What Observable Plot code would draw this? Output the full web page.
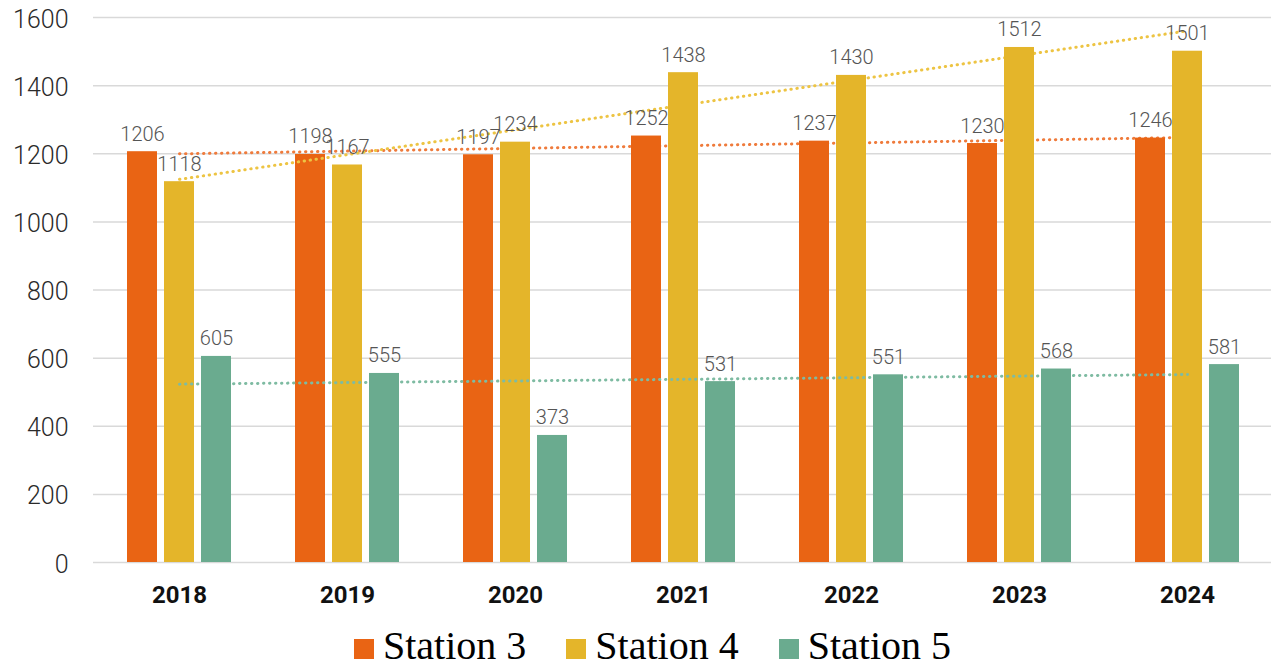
<!DOCTYPE html>
<html>
<head>
<meta charset="utf-8">
<script src="https://cdn.jsdelivr.net/npm/d3@7"></script>
<script src="https://cdn.jsdelivr.net/npm/@observablehq/plot@0.6"></script>
<style>
  html, body { margin: 0; padding: 0; background: #fff; }
  #chart { width: 1271px; height: 668px; overflow: hidden; }
  #legend { padding-left: 354px; margin-top: 6px; line-height: 40px; }
  #legend .stations-swatch { margin-right: 40px !important; line-height: 40px; }
  #legend .stations-swatch > svg { margin-right: 9px !important; position: relative; top: 3px; }
</style>
</head>
<body>
<div id="chart"></div>
<script>
// Annual totals per station
const years = ["2018", "2019", "2020", "2021", "2022", "2023", "2024"];
const stations = ["Station 3", "Station 4", "Station 5"];
const station3 = [1206, 1198, 1197, 1252, 1237, 1230, 1246];
const station4 = [1118, 1167, 1234, 1438, 1430, 1512, 1501];
const station5 = [605, 555, 373, 531, 551, 568, 581];
const yTicks = [0, 200, 400, 600, 800, 1000, 1200, 1400, 1600];

const series = [station3, station4, station5];
const barColors = ["#E96414", "#E4B52A", "#6AAB8F"];
const trendColors = ["#EF7B3C", "#EDC443", "#7EBBA2"];
const offsets = [-37, 0, 37];

const rows = stations.flatMap((station, k) =>
  years.map((year, i) => ({station, year, value: series[k][i]}))
);

// Least-squares linear trend over the year index
function trend(values) {
  const idx = values.map((_, i) => i);
  const mx = d3.mean(idx), my = d3.mean(values);
  const slope = d3.sum(idx, i => (i - mx) * (values[i] - my)) / d3.sum(idx, i => (i - mx) ** 2);
  return values.map((_, i) => my + slope * (i - mx));
}
const trendRows = stations.flatMap((station, k) =>
  trend(series[k]).map((value, i) => ({station, year: years[i], value}))
);

const marks = [
  Plot.gridY(yTicks, {stroke: "#d9d9d9", strokeOpacity: 1, strokeWidth: 1.5})
];
// Each station: its dotted trend line, then its bars on top
stations.forEach((s, k) => {
  marks.push(Plot.lineY(trendRows.filter(d => d.station === s), {
    x: "year", y: "value", stroke: trendColors[k], strokeWidth: 3,
    strokeLinecap: "round", strokeDasharray: "0.4,5.6"
  }));
  marks.push(Plot.barY(rows.filter(d => d.station === s), {
    x: "year", y: "value", fill: "station", dx: offsets[k]
  }));
});
stations.forEach((s, k) => {
  marks.push(Plot.text(rows.filter(d => d.station === s), {
    x: "year", y: "value", text: d => String(d.value), dx: offsets[k], dy: -11,
    lineAnchor: "bottom", fill: "#555", fontSize: 20, fontWeight: 300, fontFamily: "Roboto"
  }));
});
marks.push(Plot.axisY(yTicks, {
  tickSize: 0, tickPadding: 25, fontSize: 25, fontWeight: 300, fontFamily: "Roboto",
  fill: "#2a2a2a", dy: 2, label: null, tickFormat: d => String(d)
}));
marks.push(Plot.axisX({
  tickSize: 0, tickPadding: 23, fontSize: 24, fontWeight: "bold",
  fontFamily: "Roboto", fill: "#111", label: null
}));

const chart = Plot.plot({
  width: 1271,
  height: 620,
  marginTop: 17,
  marginLeft: 93,
  marginRight: 0,
  marginBottom: 58,
  style: {background: "#fff", fontFamily: "Roboto"},
  x: {type: "band", domain: years, range: [93, 1273.5], paddingInner: 0.8222, paddingOuter: 0.4089},
  y: {domain: [0, 1600]},
  color: {domain: stations, range: barColors},
  marks
});

const legend = Plot.legend({
  color: {type: "ordinal", domain: stations, range: barColors},
  legend: "swatches",
  swatchSize: 20,
  className: "stations",
  style: {fontFamily: "'Liberation Serif', 'Times New Roman', serif", fontSize: "40px", color: "#000", lineHeight: "40px", marginBottom: "0"}
});

const wrap = document.createElement("div");
wrap.id = "legend";
wrap.appendChild(legend);
const root = document.getElementById("chart");
root.appendChild(chart);
root.appendChild(wrap);
</script>
</body>
</html>
